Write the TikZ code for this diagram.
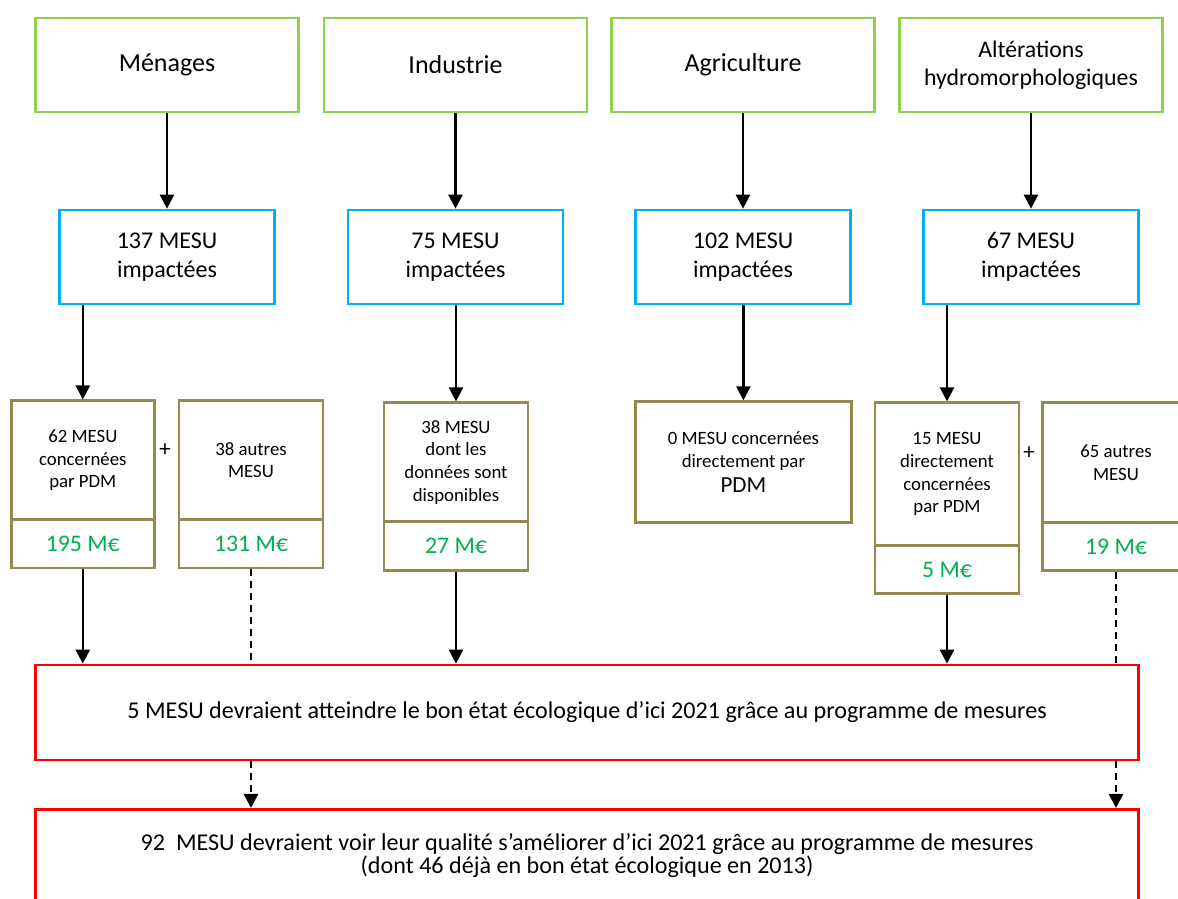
\documentclass[tikz,border=0pt]{standalone}
\usepackage{fontspec}
\setmainfont{Carlito}
\usetikzlibrary{arrows.meta}

\definecolor{boxgreen}{HTML}{92D050}
\definecolor{boxblue}{HTML}{00B0F0}
\definecolor{boxolive}{HTML}{938953}
\definecolor{money}{HTML}{00B050}
\definecolor{boxred}{HTML}{FF0000}

\tikzset{
  box/.style={draw, line width=2.7pt, inner sep=0pt, align=center},
  source/.style={box, draw=boxgreen, minimum width=263pt, minimum height=94pt,
                 font=\fontsize{26}{28.3}\selectfont},
  impact/.style={box, draw=boxblue, minimum width=215pt, minimum height=94pt,
                 font=\fontsize{24}{29.3}\selectfont},
  detail/.style={box, draw=boxolive, font=\fontsize{18.8}{22.6}\selectfont},
  cost/.style={box, draw=boxolive, text=money, font=\fontsize{23.8}{28}\selectfont},
  result/.style={box, draw=boxred, minimum width=1103pt, font=\fontsize{24.1}{23.5}\selectfont},
  plus/.style={inner sep=0pt, font=\fontsize{23}{23}\selectfont},
  flow/.style={line width=2.5pt, -{Triangle[length=14pt,width=14pt]}},
  dflow/.style={flow, dash pattern=on 7pt off 5pt},
  dline/.style={line width=2.5pt, dash pattern=on 7pt off 5pt},
}

\begin{document}
\begin{tikzpicture}[x=1pt, y=-1pt]
\useasboundingbox (0,0) rectangle (1178,898);
\clip (0,0) rectangle (1178,898);

% pressure sources
\node[source] (g1) at (167,65) {Ménages};
\node[source] (g2) at (455.5,65) {Industrie};
\node[source] (g3) at (743,65) {Agriculture};
\node[source, font=\fontsize{23.8}{28.3}\selectfont] (g4) at (1031,65) {Altérations\\hydromorphologiques};

% impacted water bodies
\node[impact] (b1) at (167,257) {137 MESU\\impactées};
\node[impact] (b2) at (455.5,257) {75 MESU\\impactées};
\node[impact] (b3) at (743,257) {102 MESU\\impactées};
\node[impact] (b4) at (1031,257) {67 MESU\\impactées};

% details and costs
\node[detail, minimum width=143pt, minimum height=119pt] (a1) at (82.8,460.3) {62 MESU\\concernées\\par PDM};
\node[cost, minimum width=143pt, minimum height=48pt] (a1m) at (82.8,544) {195 M€};
\node[detail, minimum width=144pt, minimum height=119pt] (a2) at (251,460.3) {38 autres\\MESU};
\node[cost, minimum width=144pt, minimum height=48pt] (a2m) at (251,544) {131 M€};
\node[plus] (p1) at (165,450) {+};

\node[detail, minimum width=144pt, minimum height=119pt] (c2) at (456,462.2) {38 MESU\\dont les\\données sont\\disponibles};
\node[cost, minimum width=144pt, minimum height=49pt] (c2m) at (456,546.2) {27 M€};

\node[detail, minimum width=216pt, minimum height=121pt] (c3) at (743.4,462.2)
  {0 MESU concernées\\directement par\\[3pt]{\fontsize{23}{23}\selectfont PDM}};

\node[detail, minimum width=144pt, minimum height=143pt] (d1) at (947,474.2) {15 MESU\\directement\\concernées\\par PDM};
\node[cost, minimum width=144pt, minimum height=47.6pt] (d1m) at (947,569.5) {5 M€};
\node[detail, minimum width=147pt, minimum height=120pt] (d2) at (1116,462.7) {65 autres\\MESU};
\node[cost, minimum width=147pt, minimum height=48pt] (d2m) at (1116,546.7) {19 M€};
\node[plus] (p2) at (1029,452.7) {+};

% outcomes
\node[result, minimum height=95pt] (r1) at (587.1,712.5)
  {5 MESU devraient atteindre le bon état écologique d’ici 2021 grâce au programme de mesures};
\node[result, minimum height=92.4pt] (r2) at (587.1,855.5)
  {92\ \ MESU devraient voir leur qualité s’améliorer d’ici 2021 grâce au programme de mesures\\(dont 46 déjà en bon état écologique en 2013)};

% sources to impacts
\draw[flow] (g1.south) -- (b1.north);
\draw[flow] (g2.south) -- (b2.north);
\draw[flow] (g3.south) -- (b3.north);
\draw[flow] (g4.south) -- (b4.north);

% impacts to details
\draw[flow] (b1.south -| a1.north) -- (a1.north);
\draw[flow] (b2.south -| c2.north) -- (c2.north);
\draw[flow] (b3.south -| c3.north) -- (c3.north);
\draw[flow] (b4.south -| d1.north) -- (d1.north);

% costs to outcomes
\draw[flow] (a1m.south) -- (a1m.south |- r1.north);
\draw[dline] (a2m.south) -- (a2m.south |- r1.north);
\draw[flow] (c2m.south) -- (c2m.south |- r1.north);
\draw[flow] (d1m.south) -- (d1m.south |- r1.north);
\draw[dline] (d2m.south) -- (d2m.south |- r1.north);

% outcome to outcome
\draw[dflow] (r1.south -| a2m.south) -- (r2.north -| a2m.south);
\draw[dflow] (r1.south -| d2m.south) -- (r2.north -| d2m.south);
\end{tikzpicture}
\end{document}
